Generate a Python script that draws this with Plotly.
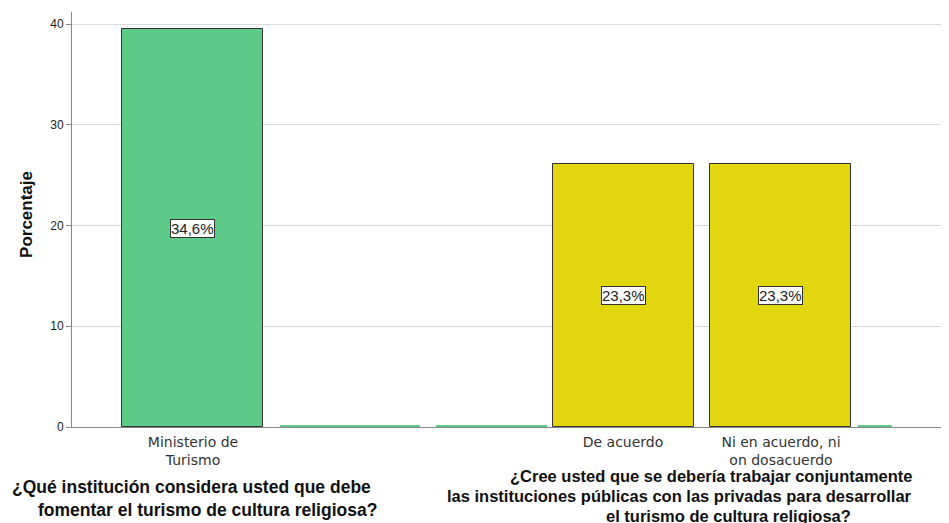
import plotly.graph_objects as go

# bar positions (axis units) and widths
green_pos = [1.205, 2.78, 4.195, 8.03]
green_width = [1.41, 1.40, 1.11, 0.34]
green_vals = [39.5, 0.2, 0.2, 0.2]
green_labels = ['34,6%', None, None, None]

yellow_pos = [5.515, 7.085]
yellow_width = [1.41, 1.41]
yellow_vals = [26.1, 26.1]
yellow_labels = ['23,3%', '23,3%']

tick_pos = [1.21, 5.51, 7.09]
tick_text = ['Ministerio de<br>Turismo', 'De acuerdo', 'Ni en acuerdo, ni<br>on dosacuerdo']

y_ticks = [0, 10, 20, 30, 40]

# axis-variable titles, one entry per line: (text, x, y, anchor, size)
title_lines = [
    ('¿Qué institución considera usted que debe', 1.19, -0.145, 'center', 17.5),
    ('fomentar el turismo de cultura religiosa?', 1.35, -0.200, 'center', 17.5),
    ('¿Cree usted que se debería trabajar conjuntamente', 6.39, -0.118, 'center', 16.5),
    ('las instituciones públicas con las privadas para desarrollar', 3.73, -0.166, 'left', 16.5),
    ('el turismo de cultura religiosa?', 6.56, -0.214, 'center', 16.5),
]

GREEN = '#5ECA8A'
YELLOW = '#E2D60F'
FONT = 'Liberation Sans, Arial, sans-serif'

fig = go.Figure()

# thin zero bars without outline, main bars with outline
for p, w, v in zip(green_pos, green_width, green_vals):
    fig.add_trace(go.Bar(x=[p], y=[v], width=[w], marker_color=GREEN,
                         marker_line_color='#333333' if v > 1 else GREEN,
                         marker_line_width=1 if v > 1 else 0, showlegend=False))
fig.add_trace(go.Bar(x=yellow_pos, y=yellow_vals, width=yellow_width, marker_color=YELLOW,
                     marker_line_color='#333333', marker_line_width=1, showlegend=False))

annotations = []
for p, v, t in zip(green_pos + yellow_pos, green_vals + yellow_vals, green_labels + yellow_labels):
    if t:
        annotations.append(dict(x=p, y=v / 2, xref='x', yref='y', text=t, showarrow=False,
                                bgcolor='white', bordercolor='#333333', borderwidth=1, borderpad=0,
                                font=dict(family=FONT, size=15, color='#222222')))

for t, x, y, anc, sz in title_lines:
    annotations.append(dict(x=x, y=y, xref='x', yref='paper', text='<b>' + t + '</b>', showarrow=False,
                            xanchor=anc, yanchor='middle',
                            font=dict(family=FONT, size=sz, color='#111111')))

annotations.append(dict(x=-0.0513, y=0.511, xref='paper', yref='paper', text='<b>Porcentaje</b>',
                        textangle=-90, showarrow=False, xanchor='center', yanchor='middle',
                        font=dict(family=FONT, size=17, color='#111111')))

# page body adds an 8px margin, so the figure is sized 8px smaller
fig.update_layout(
    width=941, height=515,
    margin=dict(l=64, r=0, t=4, b=96),
    plot_bgcolor='white', paper_bgcolor='white',
    barmode='overlay', bargap=0,
    annotations=annotations,
    font=dict(family=FONT, color='#222222'),
)
fig.update_xaxes(range=[0, 8.77], tickvals=tick_pos, ticktext=tick_text, ticks='',
                 showline=True, linecolor='#888888', linewidth=1, showgrid=False,
                 tickfont=dict(family='DejaVu Sans', size=14, color='#333333'),
                 ticklabelstandoff=2, zeroline=False, automargin=False)
fig.update_yaxes(range=[0, 41.2], tickvals=y_ticks, ticks='outside', ticklen=5, tickcolor='#888888',
                 showline=True, linecolor='#888888', linewidth=1,
                 gridcolor='#d9d9d9', gridwidth=1, zeroline=False, automargin=False,
                 tickfont=dict(size=12, color='#222222'))

fig.write_html("out.html")
